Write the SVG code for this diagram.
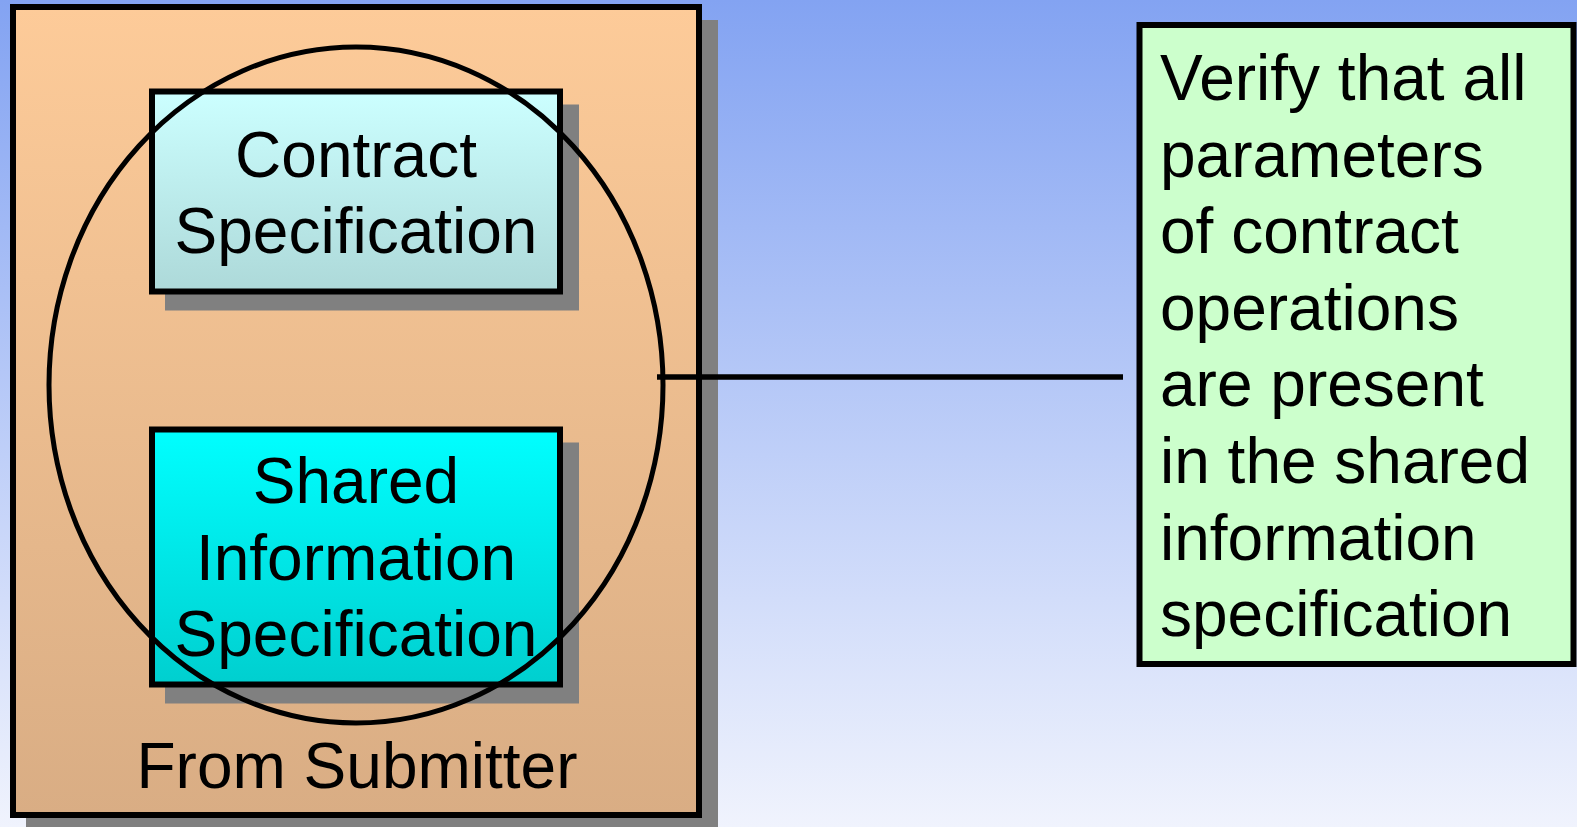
<svg xmlns="http://www.w3.org/2000/svg" width="1577" height="827" viewBox="0 0 1577 827">
<style>
.t{font-family:"Liberation Sans",Arial,sans-serif;font-size:64px;fill:#000}
.c{text-anchor:middle}
.b{stroke:#000;stroke-width:6}
.sh{fill:#808080}
</style>
<defs>
<linearGradient id="bg" x1="0" y1="0" x2="0" y2="1">
<stop offset="0" stop-color="#83A3F2"/>
<stop offset="1" stop-color="#F0F3FD"/>
</linearGradient>
<linearGradient id="og" x1="0" y1="0" x2="0" y2="1">
<stop offset="0" stop-color="#FDCB99"/>
<stop offset="1" stop-color="#D9AD84"/>
</linearGradient>
<linearGradient id="g1" x1="0" y1="0" x2="0" y2="1">
<stop offset="0" stop-color="#CCFFFF"/>
<stop offset="1" stop-color="#ADD9D9"/>
</linearGradient>
<linearGradient id="g2" x1="0" y1="0" x2="0" y2="1">
<stop offset="0" stop-color="#00FFFF"/>
<stop offset="1" stop-color="#00CFCF"/>
</linearGradient>
</defs>
<rect x="0" y="0" width="1577" height="827" fill="url(#bg)"/>
<g id="from-submitter">
<rect class="sh" x="26" y="20" width="692" height="820"/>
<rect class="b" x="13" y="7" width="686" height="808" fill="url(#og)"/>
<text class="t c" x="357" y="788">From Submitter</text>
</g>
<g id="contract-specification">
<rect class="sh" x="165" y="104.5" width="414" height="206"/>
<rect class="b" x="152" y="91.5" width="408" height="200" fill="url(#g1)"/>
<text class="t c" x="356" y="177">Contract</text>
<text class="t c" x="356" y="253">Specification</text>
</g>
<g id="shared-information-specification">
<rect class="sh" x="165" y="442.5" width="414" height="261"/>
<rect class="b" x="152" y="429.5" width="408" height="255" fill="url(#g2)"/>
<text class="t c" x="356" y="503">Shared</text>
<text class="t c" x="356" y="580">Information</text>
<text class="t c" x="356" y="656">Specification</text>
</g>
<g id="scope-ellipse">
<ellipse cx="356" cy="385" rx="307" ry="338" fill="none" stroke="#000" stroke-width="5"/>
</g>
<g id="connectors">
<line x1="657" y1="377" x2="1123" y2="377" stroke="#000" stroke-width="5.5"/>
</g>
<g id="verify-note">
<rect class="b" x="1139.5" y="25" width="434" height="639" fill="#CCFFCC"/>
<text class="t" x="1160" y="100">Verify that all</text>
<text class="t" x="1160" y="176.6">parameters</text>
<text class="t" x="1160" y="253.2">of contract</text>
<text class="t" x="1160" y="329.8">operations</text>
<text class="t" x="1160" y="406.4">are present</text>
<text class="t" x="1160" y="483">in the shared</text>
<text class="t" x="1160" y="559.6">information</text>
<text class="t" x="1160" y="636.2">specification</text>
</g>
</svg>
